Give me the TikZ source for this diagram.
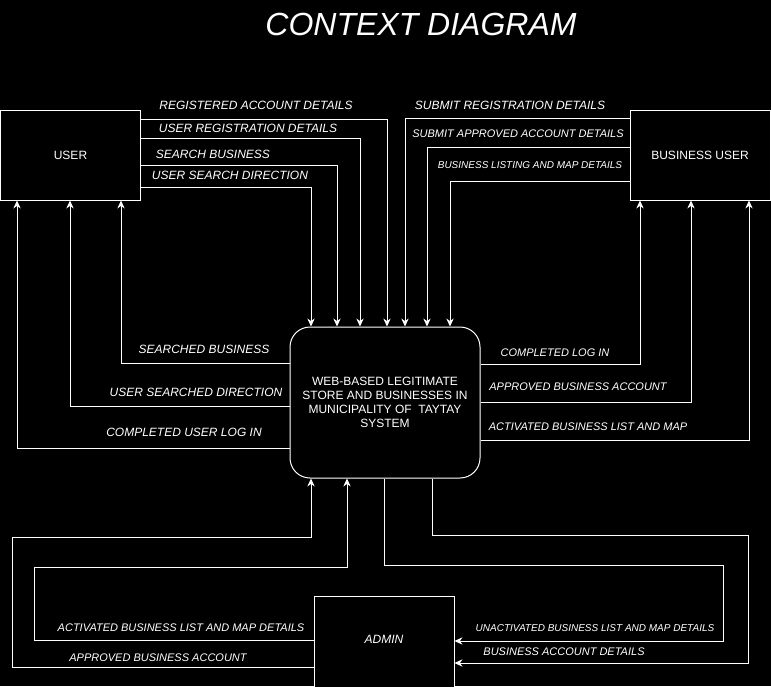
\documentclass[tikz,border=0pt]{standalone}
\usepackage{fontspec}
\setmainfont{Liberation Sans}
\usepackage{tikz}
\usetikzlibrary{arrows, arrows.meta, shapes, positioning}

\begin{document}
\begin{tikzpicture}[x=0.75pt, y=-0.75pt,
    every node/.style={text=white, inner sep=0pt},
    box/.style={draw=white, line width=0.75pt, fill=black, minimum width=105pt, minimum height=67.5pt, font=\fontsize{9}{11}\selectfont},
    flow/.style={draw=white, line width=0.75pt, -{Stealth[length=6pt, width=5.5pt]}},
    lbl/.style={font=\fontsize{9}{11}\selectfont\itshape},
    lbls/.style={font=\fontsize{8.25}{10}\selectfont\itshape},
    lblt/.style={font=\fontsize{7.5}{9}\selectfont\itshape}]
            \fill[black] (0,0) rectangle (771,686);
            \useasboundingbox (0,0) rectangle (771,686);

            \node (title) at (421, 24) {\fontsize{24}{28}\selectfont\itshape CONTEXT DIAGRAM};

            \node[box] (user) at (70.5, 155) {USER};
            \node[box] (bizuser) at (700, 155) {BUSINESS USER};
            \node[box, minimum height=70pt, font=\fontsize{9}{11}\selectfont\itshape] (admin) at (384, 643) {};
            \node (admintext) at (384, 639) {\fontsize{9}{11}\selectfont\itshape ADMIN};
            \node[box, rounded corners=15pt, minimum width=142.5pt, minimum height=113.25pt, align=center,
                  font=\fontsize{9}{10.5}\selectfont] (system) at (385, 402.5)
                {WEB-BASED LEGITIMATE\\STORE AND BUSINESSES IN\\MUNICIPALITY OF \ TAYTAY\\SYSTEM};

            % user to system
            \node[lbl] (regacc) at (256, 105) {REGISTERED ACCOUNT DETAILS};
            \node[lbl] (userreg) at (248, 128) {USER REGISTRATION DETAILS};
            \node[lbl] (searchbiz) at (213, 154) {SEARCH BUSINESS};
            \node[lbl] (searchdir) at (230, 175) {USER SEARCH DIRECTION};
            \draw[flow] (user.east |- 0,119) -| (system.north -| 387,0);
            \draw[flow] (user.east |- 0,138) -| (system.north -| 360,0);
            \draw[flow] (user.east |- 0,165) -| (system.north -| 337,0);
            \draw[flow] (user.east |- 0,187) -| (system.north -| 311,0);

            % system to user
            \node[lbl] (searched) at (204, 349) {SEARCHED BUSINESS};
            \node[lbl] (searcheddir) at (196, 392) {USER SEARCHED DIRECTION};
            \node[lbl] (userlogin) at (184, 432) {COMPLETED USER LOG IN};
            \draw[flow] (system.west |- 0,363) -| (user.south -| 121,0);
            \draw[flow] (system.west |- 0,406) -| (user.south -| 70,0);
            \draw[flow] (system.west |- 0,448) -| (user.south -| 17,0);

            % business user to system
            \node[lbl] (subreg) at (510, 105) {SUBMIT REGISTRATION DETAILS};
            \node[lbls] (subapp) at (518, 134) {SUBMIT APPROVED ACCOUNT DETAILS};
            \node[lblt] (listing) at (530, 165) {BUSINESS LISTING AND MAP DETAILS};
            \draw[flow] (bizuser.west |- 0,118) -| (system.north -| 405,0);
            \draw[flow] (bizuser.west |- 0,147) -| (system.north -| 427,0);
            \draw[flow] (bizuser.west |- 0,181) -| (system.north -| 450,0);

            % system to business user
            \node[lbls] (login) at (555, 353) {COMPLETED LOG IN};
            \node[lbls] (appbiz) at (578, 387) {APPROVED BUSINESS ACCOUNT};
            \node[lbls] (actlist) at (588, 427) {ACTIVATED BUSINESS LIST AND MAP};
            \draw[flow] (system.east |- 0,364) -| (bizuser.south -| 640,0);
            \draw[flow] (system.east |- 0,402) -| (bizuser.south -| 691,0);
            \draw[flow] (system.east |- 0,440) -| (bizuser.south -| 749,0);

            % admin to system
            \node[lbls] (actdetails) at (181, 628) {ACTIVATED BUSINESS LIST AND MAP DETAILS};
            \node[lbls] (appacc) at (158, 658) {APPROVED BUSINESS ACCOUNT};
            \draw[flow] (admin.west |- 0,667) -| (12,537) -| (system.south -| 311,0);
            \draw[flow] (admin.west |- 0,640) -| (34,567) -| (system.south -| 347,0);

            % system to admin
            \node[lblt] (unact) at (595, 628) {UNACTIVATED BUSINESS LIST AND MAP DETAILS};
            \node[lbls] (bizacc) at (564, 652) {BUSINESS ACCOUNT DETAILS};
            \draw[flow] (system.south -| 384,0) |- (723,565) |- (admin.east |- 0,641);
            \draw[flow] (system.south -| 432,0) |- (748,535) |- (admin.east |- 0,663);
        \end{tikzpicture}
\end{document}
